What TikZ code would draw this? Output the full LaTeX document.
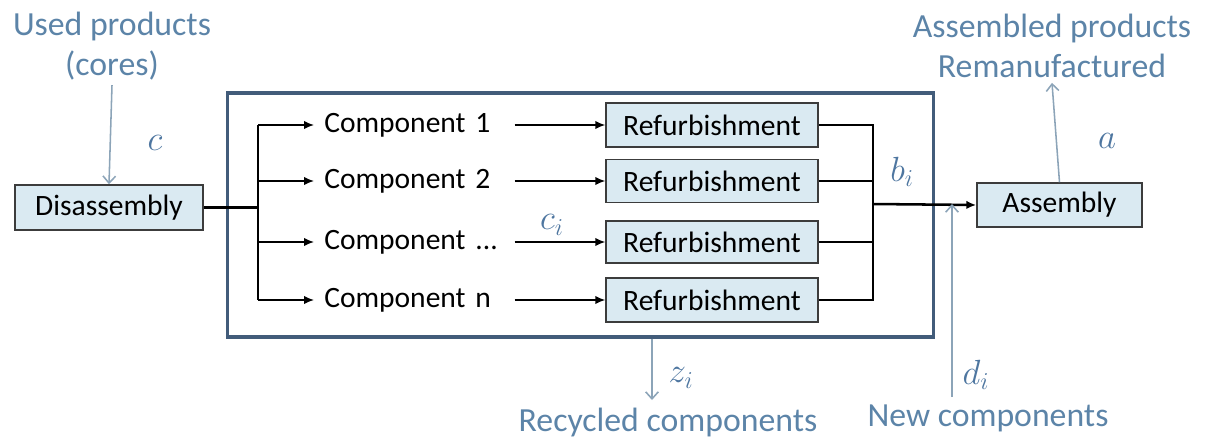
\documentclass[tikz,border=0pt]{standalone}
\usepackage{fontspec}
\setmainfont{Carlito}
\usetikzlibrary{arrows.meta}
\definecolor{frameblue}{RGB}{66, 92, 122}
\definecolor{boxfill}{RGB}{218, 234, 242}
\definecolor{boxline}{RGB}{60, 60, 60}
\definecolor{labelblue}{RGB}{92, 132, 168}
\definecolor{mathblue}{RGB}{78, 118, 160}
\definecolor{flowgrey}{RGB}{140, 164, 184}

\begin{document}
\begin{tikzpicture}[x=0.025cm, y=-0.025cm,
  stagebox/.style={draw=boxline, fill=boxfill, line width=1.1pt, inner sep=0pt, font=\fontsize{21}{25}\selectfont},
  comptext/.style={inner xsep=0.25cm, inner ysep=0pt, text width=4.5cm, align=left, font=\fontsize{21}{25}\selectfont},
  flowtext/.style={text=labelblue, align=center, font=\fontsize{24}{28.5}\selectfont},
  varlabel/.style={text=mathblue, font=\fontsize{26}{30}\selectfont},
  arr/.style={line width=1.1pt, -{Latex[length=7pt, width=6pt]}},
  flowarr/.style={draw=flowgrey, line width=1.1pt, -{Straight Barb[length=5pt, width=9pt]}}]
\useasboundingbox (0,0) rectangle (1206,443);

% outer frame
\node (frame) [draw=frameblue, line width=2.2pt, minimum width=17.625cm, minimum height=6.1cm] at (580.5, 215) {};

% stages
\node (dis) [stagebox, minimum width=4.7cm, minimum height=1.125cm] at (109, 207.5) {Disassembly};
\node (asm) [stagebox, minimum width=4.125cm, minimum height=1.1cm] at (1059.5, 205) {Assembly};

\node (c1) [comptext, anchor=west] at (314, 125) {Component 1};
\node (c2) [comptext, anchor=west] at (314, 181) {Component 2};
\node (c3) [comptext, anchor=west] at (314, 242) {Component ...};
\node (c4) [comptext, anchor=west] at (314, 300) {Component n};

\node (r1) [stagebox, minimum width=5.3cm, minimum height=1.1cm] at (712, 125) {Refurbishment};
\node (r2) [stagebox, minimum width=5.3cm, minimum height=1.075cm] at (712, 181) {Refurbishment};
\node (r3) [stagebox, minimum width=5.3cm, minimum height=1.05cm] at (712, 242) {Refurbishment};
\node (r4) [stagebox, minimum width=5.3cm, minimum height=1.1cm] at (712, 300) {Refurbishment};

\coordinate (split) at (258, 207.5);
\coordinate (join) at (873, 204);

% flows in and out
\node (used) [flowtext] at (112, 46) {Used products\\(cores)};
\node (made) [flowtext] at (1052, 46) {Assembled products\\Remanufactured};
\node (recy) [flowtext] at (668, 422) {Recycled components};
\node (newc) [flowtext] at (988, 418) {New components};

\coordinate (zfoot) at (652, 400);
\coordinate (dfoot) at (952, 397);

% labels
\node (lc) [varlabel] at (155, 143) {$c$};
\node (lci) [varlabel] at (552, 225) {$c_i$};
\node (lbi) [varlabel] at (902, 172) {$b_i$};
\node (la) [varlabel] at (1107, 141) {$a$};
\node (lzi) [varlabel] at (681, 378) {$z_i$};
\node (ldi) [varlabel] at (976, 375) {$d_i$};

% disassembly to components
\draw [line width=1.8pt] (dis.east) -- (split);
\draw [line width=1.1pt] (c1.west -| split) -- (c4.west -| split);
\draw [arr] (c1.west -| split) -- (c1.west);
\draw [arr] (c2.west -| split) -- (c2.west);
\draw [arr] (c3.west -| split) -- (c3.west);
\draw [arr] (c4.west -| split) -- (c4.west);

% components to refurbishment
\draw [arr] (c1.east) -- (r1.west);
\draw [arr] (c2.east) -- (r2.west);
\draw [arr] (c3.east) -- (r3.west);
\draw [arr] (c4.east) -- (r4.west);

% refurbishment to assembly
\draw [line width=1.1pt] (r1.east) -| (join);
\draw [line width=1.1pt] (r4.east) -| (join);
\draw [line width=1.1pt] (r2.east) -- (r2.east -| join);
\draw [line width=1.1pt] (r3.east) -- (r3.east -| join);
\draw [arr, line width=1.8pt] (join) -- (asm.west);

% outside flows
\draw [flowarr] (used.south) -- (dis.north);
\draw [flowarr] (asm.north) -- (made.south);
\draw [flowarr] (frame.south -| zfoot) -- (zfoot);
\draw [flowarr] (dfoot) -- (dfoot |- join);
\end{tikzpicture}
\end{document}
